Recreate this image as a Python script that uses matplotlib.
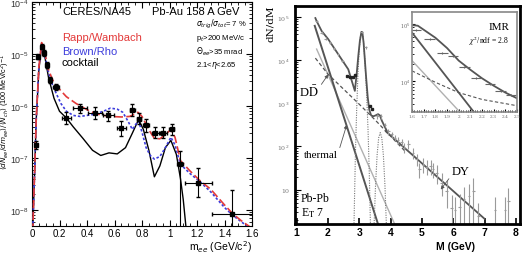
import numpy as np
import matplotlib
matplotlib.use('Agg')
import matplotlib.pyplot as plt
from matplotlib.ticker import FixedLocator, MultipleLocator, NullFormatter, LogLocator

W, H = 523, 255

# ---- left panel: CERES/NA45 dielectron spectrum (values in log10) ----
ceres_m = [0.03, 0.046, 0.07, 0.09, 0.107, 0.13, 0.175, 0.25, 0.35, 0.46, 0.555,
           0.65, 0.73, 0.78, 0.83, 0.895, 0.955, 1.015, 1.076, 1.21, 1.457]
ceres_log = [-6.75, -5.05, -4.86, -4.98, -5.21, -5.5, -5.64, -6.23, -6.04, -6.13, -6.18,
             -6.43, -6.07, -6.24, -6.37, -6.51, -6.51, -6.45, -7.12, -7.47, -8.07]
ceres_dm = [0.008, 0.008, 0.008, 0.008, 0.008, 0.01, 0.02, 0.03, 0.05, 0.05, 0.04,
            0.03, 0.02, 0.015, 0.02, 0.025, 0.025, 0.02, 0.02, 0.1, 0.15]
ceres_lo = [0.08, 0.05, 0.05, 0.05, 0.05, 0.06, 0.06, 0.12, 0.1, 0.12, 0.1,
            0.15, 0.12, 0.1, 0.12, 0.1, 0.1, 0.1, 1.5, 0.28, 1.0]
ceres_hi = [0.08, 0.05, 0.05, 0.05, 0.05, 0.06, 0.06, 0.12, 0.08, 0.12, 0.08,
            0.15, 0.1, 0.1, 0.12, 0.1, 0.1, 0.1, 0.26, 0.28, 0.45]

cocktail_m = [0.0, 0.01, 0.02, 0.03, 0.05, 0.07, 0.09, 0.12, 0.16, 0.2, 0.25, 0.3, 0.37,
              0.44, 0.5, 0.56, 0.62, 0.68, 0.73, 0.775, 0.81, 0.85, 0.89, 0.93, 0.97,
              1.01, 1.05, 1.08, 1.1, 1.13]
cocktail_log = [-9.0, -8.0, -7.2, -6.3, -5.3, -4.85, -5.0, -5.45, -5.85, -6.1, -6.23, -6.4,
                -6.62, -6.85, -6.95, -6.9, -6.92, -6.8, -6.52, -6.26, -6.45, -6.85, -7.36,
                -7.15, -6.8, -6.66, -6.93, -7.4, -7.8, -8.6]

rapp_m = [0.0, 0.01, 0.02, 0.03, 0.05, 0.07, 0.09, 0.12, 0.15, 0.18, 0.25, 0.32, 0.4,
          0.45, 0.5, 0.57, 0.65, 0.71, 0.75, 0.77, 0.8, 0.83, 0.86, 0.89, 0.93, 0.97,
          1.01, 1.04, 1.08, 1.15, 1.22, 1.3, 1.4, 1.46, 1.52, 1.6]
rapp_log = [-9.0, -8.0, -7.2, -6.3, -5.25, -4.78, -4.95, -5.3, -5.5, -5.62, -5.82, -5.95,
            -6.07, -6.13, -6.17, -6.2, -6.21, -6.2, -6.15, -6.12, -6.2, -6.35, -6.5,
            -6.62, -6.63, -6.55, -6.45, -6.6, -7.05, -7.25, -7.43, -7.6, -7.9, -8.07,
            -8.2, -8.35]

brown_m = [0.0, 0.01, 0.02, 0.03, 0.05, 0.07, 0.09, 0.12, 0.15, 0.18, 0.21, 0.25, 0.3,
           0.35, 0.45, 0.52, 0.57, 0.62, 0.66, 0.7, 0.73, 0.755, 0.775, 0.8, 0.83, 0.86,
           0.89, 0.93, 0.97, 1.01, 1.04, 1.08, 1.15, 1.22, 1.3, 1.4, 1.46, 1.52, 1.6]
brown_log = [-9.0, -8.0, -7.2, -6.3, -5.25, -4.8, -4.98, -5.35, -5.6, -5.78, -5.95, -6.1,
             -6.18, -6.2, -6.16, -6.1, -6.04, -6.06, -6.12, -6.3, -6.45, -6.35, -6.29,
             -6.5, -6.8, -6.95, -7.02, -6.97, -6.8, -6.6, -6.75, -7.12, -7.3, -7.45,
             -7.65, -7.95, -8.1, -8.22, -8.38]

# ---- right panel: NA50 Pb-Pb dimuon mass spectrum (values in log10) ----
na50_M = [1.64, 1.8, 1.93, 2.06, 2.2, 2.33, 2.46, 3.08, 3.2, 3.58, 3.7, 3.82, 3.93,
          4.03, 4.13, 4.24, 4.35, 4.43, 4.57, 4.72, 4.83, 4.92, 5.04, 5.15, 5.28, 5.36,
          5.47, 5.63, 5.79, 5.95, 6.05, 6.2, 6.35, 6.51, 6.64, 6.8, 7.33, 7.65, 7.76]
na50_log = [4.91, 4.64, 4.5, 4.41, 4.27, 4.14, 3.98, 4.65, 4.3, 2.7, 2.7, 2.5, 2.35,
            2.28, 2.2, 2.15, 2.1, 1.97, 2.05, 1.85, 1.7, 1.47, 1.58, 1.53, 1.54, 1.47,
            1.38, 1.16, 0.96, 0.57, 0.53, 0.6, 0.77, 0.84, 0.96, 0.38, 0.53, 0.53, 0.73]
na50_lo = [0.03, 0.03, 0.03, 0.03, 0.03, 0.03, 0.03, 0.02, 0.03, 0.06, 0.06, 0.06, 0.08,
           0.08, 0.08, 0.1, 0.1, 0.12, 0.12, 0.15, 0.15, 0.2, 0.2, 0.2, 0.2, 0.2,
           0.25, 0.3, 0.4, 1.0, 1.0, 1.0, 1.0, 0.8, 0.8, 1.0, 1.0, 1.0, 1.0]
na50_hi = [0.03, 0.03, 0.03, 0.03, 0.03, 0.03, 0.03, 0.02, 0.03, 0.05, 0.05, 0.05, 0.06,
           0.06, 0.06, 0.08, 0.08, 0.1, 0.1, 0.12, 0.12, 0.15, 0.15, 0.15, 0.15, 0.15,
           0.2, 0.22, 0.25, 0.3, 0.3, 0.3, 0.3, 0.3, 0.3, 0.3, 0.3, 0.3, 0.3]
dots_M = [2.6, 2.7, 2.8, 2.88, 3.34, 3.42]
dots_log = [3.64, 3.61, 3.61, 3.65, 2.94, 2.88]

total_M = [1.6, 1.64, 1.8, 2.01, 2.33, 2.65, 2.75, 2.86, 2.92, 2.97, 3.02, 3.07, 3.1,
           3.14, 3.18, 3.22, 3.27, 3.32, 3.38, 3.45, 3.52, 3.6, 3.66, 3.72, 3.8, 3.9]
total_log = [4.98, 4.91, 4.68, 4.49, 4.14, 3.79, 3.55, 3.29, 3.7, 4.1, 4.45, 4.66, 4.65,
             4.4, 4.0, 3.6, 3.15, 2.85, 2.72, 2.7, 2.72, 2.75, 2.72, 2.6, 2.48, 2.33]
thermal_M = [1.58, 3.62]
thermal_log = [4.8, 0.15]
thermal2_M = [1.64, 4.16]
thermal2_log = [4.26, 0.15]
dd_M = [1.6, 2.0, 2.5, 3.0, 3.5, 4.0, 4.5]
dd_log = [4.05, 3.68, 3.33, 2.98, 2.62, 2.24, 1.86]
dy_M = [3.85, 7.0]
dy_log = [2.35, 0.32]
jpsi_M = [2.83, 2.88, 2.92, 2.96, 3.0, 3.04, 3.08, 3.13, 3.18, 3.23, 3.28, 3.32, 3.36]
jpsi_log = [0.1, 1.9, 2.9, 3.7, 4.25, 4.57, 4.68, 4.5, 4.0, 3.3, 2.4, 1.4, 0.1]
psi2_M = [3.47, 3.52, 3.57, 3.62, 3.67, 3.72, 3.77, 3.82, 3.87]
psi2_log = [0.1, 1.1, 1.8, 2.2, 2.32, 2.2, 1.8, 1.1, 0.1]

# ---- inset: intermediate mass region ----
imr_M = [1.63, 1.75, 1.86, 1.95, 2.05, 2.15, 2.27, 2.36, 2.45]
imr_log = [4.9, 4.74, 4.5, 4.44, 4.25, 4.06, 3.95, 3.83, 3.76]
imr_total_M = [1.6, 1.65, 1.7, 1.8, 1.9, 2.0, 2.1, 2.2, 2.3, 2.4, 2.5]
imr_total_log = [4.98, 4.97, 4.9, 4.76, 4.58, 4.36, 4.2, 4.05, 3.92, 3.8, 3.7]
imr_th_M = [1.6, 2.13]
imr_th_log = [4.85, 3.46]
imr_th2_M = [1.6, 2.01]
imr_th2_log = [4.36, 3.46]
imr_dd_M = [1.6, 1.8, 2.0, 2.2, 2.5]
imr_dd_log = [4.18, 3.98, 3.8, 3.68, 3.57]


def p(v):
    return 10.0 ** np.asarray(v, dtype=float)


def fx(x):
    return x / W


def fy(y):
    return 1 - y / H


fig = plt.figure(figsize=(W / 100, H / 100), dpi=100)
plt.rcParams['font.family'] = ['Liberation Sans', 'DejaVu Sans']

# ================= left panel =================
ax1 = fig.add_axes([fx(32), fy(226.7), fx(220), 223.7 / H])
ax1.set_yscale('log')
ax1.set_xlim(0, 1.6)
ax1.set_ylim(10 ** -8.3, 1e-4)

y = p(ceres_log)
ylo = y - p(np.array(ceres_log) - np.array(ceres_lo))
yhi = p(np.array(ceres_log) + np.array(ceres_hi)) - y
ax1.plot(cocktail_m, p(cocktail_log), color='black', lw=1.0, zorder=2)
ax1.plot(brown_m, p(brown_log), color='#3c3cdc', lw=1.2, ls=(0, (1.5, 1.2)), zorder=3)
ax1.plot(rapp_m, p(rapp_log), color='#e33a3a', lw=1.2, ls=(0, (5, 2)), zorder=3)
ax1.errorbar(ceres_m, y, xerr=ceres_dm, yerr=[ylo, yhi], fmt='s', color='black',
             ms=3.2, lw=0.8, capsize=1.2, zorder=4)

ax1.set_xticks(np.arange(0, 1.61, 0.2))
ax1.set_xticklabels(['0', '0.2', '0.4', '0.6', '0.8', '1', '1.2', '1.4', '1.6'])
ax1.xaxis.set_minor_locator(MultipleLocator(0.05))
ax1.yaxis.set_major_locator(FixedLocator([1e-8, 1e-7, 1e-6, 1e-5, 1e-4]))
ax1.yaxis.set_minor_locator(LogLocator(subs=np.arange(2, 10), numticks=20))
ax1.yaxis.set_minor_formatter(NullFormatter())
ax1.tick_params(which='both', direction='in', top=True, right=True, labelsize=7)
ax1.tick_params(which='major', length=4)
ax1.tick_params(which='minor', length=2)
ax1.tick_params(axis='x', pad=1.5)
ax1.tick_params(axis='y', labelcolor='#333333', pad=2, labelsize=6.4)

fig.text(fx(252), fy(247), r'm$_{ee}$ (GeV/c$^2$)', ha='right', va='center', fontsize=7.5)
fig.text(fx(5.5), fy(112), r'$\langle dN_{ee}/dm_{ee}\rangle/\langle N_{ch}\rangle$ (100 MeV/c$^2$)$^{-1}$',
         rotation=90, ha='center', va='center', fontsize=5.2)

fig.text(fx(62), fy(12), 'CERES/NA45', fontsize=8, va='center')
fig.text(fx(152), fy(12), 'Pb-Au 158 A GeV', fontsize=8, va='center')
fig.text(fx(196), fy(24), r'$\sigma_{trig}/\sigma_{tot}$= 7 %', fontsize=5.5, va='center')
fig.text(fx(196), fy(38), r'p$_t$>200 MeV/c', fontsize=5.5, va='center')
fig.text(fx(196), fy(52), r'$\Theta_{ee}$>35 mrad', fontsize=5.5, va='center')
fig.text(fx(196), fy(66), r'2.1<$\eta$<2.65', fontsize=5.5, va='center')
fig.text(fx(62), fy(38), 'Rapp/Wambach', fontsize=8, va='center', color='#e33a3a')
fig.text(fx(62), fy(52), 'Brown/Rho', fontsize=8, va='center', color='#3c3cdc')
fig.text(fx(62), fy(63), 'cocktail', fontsize=8, va='center', color='black')

# ================= right panel =================
ax2 = fig.add_axes([fx(295), fy(225), fx(225), 218 / H])
ax2.set_yscale('log')
ax2.set_xlim(0.95, 8.13)
ax2.set_ylim(10 ** 0.2, 10 ** 5.26)

ax2.plot(thermal2_M, p(thermal2_log), color='#b0b0b0', lw=1.0)
ax2.plot(thermal_M, p(thermal_log), color='#555555', lw=1.4)
ax2.plot(dd_M, p(dd_log), color='#555555', lw=0.9, ls=(0, (3, 2)))
ax2.plot(jpsi_M, p(jpsi_log), color='#777777', lw=0.8, ls=(0, (1, 1.2)))
ax2.plot(psi2_M, p(psi2_log), color='#777777', lw=0.8, ls=(0, (1, 1.2)))
ax2.plot(dy_M, p(dy_log), color='#555555', lw=1.3)
ax2.plot(total_M, p(total_log), color='#555555', lw=1.3)

y2 = p(na50_log)
y2lo = y2 - p(np.array(na50_log) - np.array(na50_lo))
y2hi = p(np.array(na50_log) + np.array(na50_hi)) - y2
ax2.errorbar(na50_M, y2, xerr=0.04, yerr=[y2lo, y2hi], fmt='none', ecolor='#9a9a9a', lw=0.8)
ax2.plot(dots_M, p(dots_log), 's', color='#222222', ms=1.6, lw=0)

ax2.set_xticks(range(1, 9))
ax2.yaxis.set_major_locator(FixedLocator([10, 1e2, 1e3, 1e4, 1e5]))
ax2.set_yticklabels(['10', r'10$^2$', r'10$^3$', r'10$^4$', r'10$^5$'],
                    family='serif', fontsize=4.5, color='#777777')
ax2.yaxis.set_minor_locator(LogLocator(subs=np.arange(2, 10), numticks=20))
ax2.yaxis.set_minor_formatter(NullFormatter())
ax2.tick_params(which='both', direction='in', labelsize=7.5)
ax2.tick_params(axis='x', length=4, width=1.2, pad=2)
ax2.tick_params(axis='y', which='major', length=4, labelsize=4.5, pad=4)
ax2.tick_params(axis='y', which='minor', length=2)
for lab in ax2.get_xticklabels():
    lab.set_fontweight('bold')
for s in ax2.spines.values():
    s.set_linewidth(2)

fig.text(fx(456), fy(247), 'M (GeV)', ha='center', va='center', fontsize=7.5, fontweight='bold')
fig.text(fx(270), fy(24), 'dN/dM', rotation=90, ha='center', va='center', fontsize=7.5,
         family='serif')

serif = ['Liberation Serif', 'DejaVu Serif']
ax2.annotate(r'D$\bar{\mathrm{D}}$', xy=(2.01, 10 ** 3.67), xytext=(1.08, 10 ** 3.1),
             fontsize=9, family=serif, math_fontfamily='stix', va='bottom',
             arrowprops=dict(arrowstyle='-|>', color='#555555', lw=0.6, mutation_scale=5,
                             shrinkA=0, shrinkB=0, relpos=(1, 0.7)))
ax2.annotate('thermal', xy=(2.6, 10 ** 2.5), xytext=(1.25, 10 ** 1.7), fontsize=8,
             family=serif, va='bottom',
             arrowprops=dict(arrowstyle='-|>', color='#555555', lw=0.6, mutation_scale=5,
                             shrinkA=0, shrinkB=0, relpos=(1, 0.8)))
ax2.annotate('DY', xy=(5.6, 10 ** 1.0), xytext=(5.95, 10 ** 1.28), fontsize=9,
             family=serif, va='bottom',
             arrowprops=dict(arrowstyle='-|>', color='#555555', lw=0.6, mutation_scale=5,
                             shrinkA=0, shrinkB=0, relpos=(0, 0.2)))
fig.text(fx(301), fy(199), 'Pb-Pb', fontsize=8.5, family=serif, va='center')
fig.text(fx(301), fy(213), r'E$_\mathrm{T}$ 7', fontsize=8.5, family=serif, va='center',
         math_fontfamily='stix')

# ================= inset =================
ax3 = fig.add_axes([fx(412), fy(113), fx(105), 100 / H])
ax3.set_yscale('log')
ax3.set_xlim(1.6, 2.5)
ax3.set_ylim(10 ** 3.46, 10 ** 5.21)
ax3.plot(imr_th2_M, p(imr_th2_log), color='#b0b0b0', lw=1.0)
ax3.plot(imr_th_M, p(imr_th_log), color='#555555', lw=1.3)
ax3.plot(imr_dd_M, p(imr_dd_log), color='#555555', lw=0.8, ls=(0, (3, 2)))
ax3.plot(imr_total_M, p(imr_total_log), color='#555555', lw=1.3)
ax3.errorbar(imr_M, p(imr_log), xerr=0.045, yerr=p(imr_log) * 0.04, fmt='none',
             ecolor='#666666', lw=0.8)
ax3.set_xticks(np.arange(1.6, 2.51, 0.1))
ax3.set_xticklabels(['1.6', '1.7', '1.8', '1.9', '2', '2.1', '2.2', '2.3', '2.4', '2.5'],
                    fontsize=3.2, family='serif', color='#666666')
ax3.xaxis.set_minor_locator(MultipleLocator(0.02))
ax3.yaxis.set_major_locator(FixedLocator([1e4, 1e5]))
ax3.set_yticklabels([r'10$^4$', r'10$^5$'], fontsize=3.5, family='serif', color='#666666')
ax3.yaxis.set_minor_locator(LogLocator(subs=np.arange(2, 10), numticks=20))
ax3.yaxis.set_minor_formatter(NullFormatter())
ax3.tick_params(which='both', direction='in', pad=1.5)
ax3.tick_params(which='major', length=2.5)
ax3.tick_params(which='minor', length=1.2)
for s in ax3.spines.values():
    s.set_linewidth(1.2)
    s.set_color('#888888')
ax3.text(0.83, 0.86, 'IMR', transform=ax3.transAxes, fontsize=8, family=serif,
         ha='center', va='center')
ax3.text(0.73, 0.72, r'$\chi^2$/ndf = 2.8', transform=ax3.transAxes, fontsize=5.5,
         family=serif, ha='center', va='center', math_fontfamily='stix')

fig.savefig('out.png', dpi=100)
